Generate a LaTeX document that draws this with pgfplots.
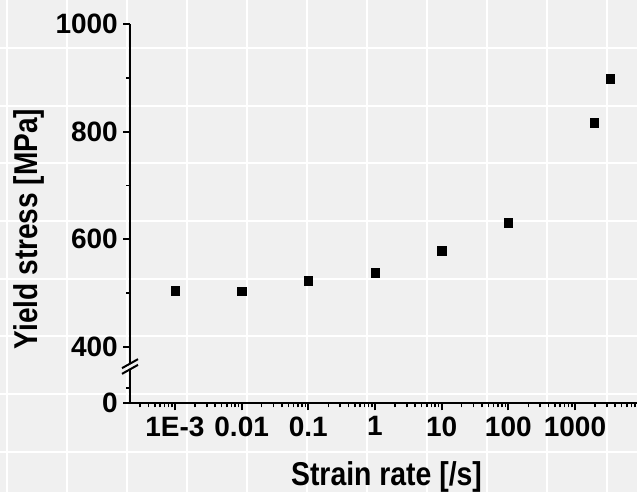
\documentclass[border=0pt]{standalone}
\usepackage{fontspec}
\setmainfont{Liberation Sans}
\usepackage{graphicx}
\usepackage{pgfplots}
\pgfplotsset{compat=1.18}
\definecolor{bg}{RGB}{240,240,240}
\begin{document}
\begin{tikzpicture}[x=1pt,y=1pt]
\useasboundingbox (0,0) rectangle (637,492);
\fill[bg] (0,0) rectangle (637,492);
\foreach \gx in {7,67,...,607} \draw[white, line width=2pt] (\gx,0) -- (\gx,492);
\foreach \k in {0,...,7} \draw[white, line width=2pt] (0,{492-48-57.7*\k}) -- (637,{492-48-57.7*\k});
\begin{axis}[
  at={(130pt,88.7pt)}, anchor=south west,
  scale only axis, width=507pt, height=379.3pt,
  xmode=log, xmin=2.113e-4, xmax=8511,
  ymin=294.7, ymax=1000,
  axis lines=left,
  axis line style={-, line width=2pt, black},
  clip=false,
  xtick={1e-3,1e-2,0.1,1,10,100,1000},
  xticklabels={1E-3,0.01,0.1,1,10,100,1000},
  minor xtick={3e-4,4e-4,5e-4,6e-4,7e-4,8e-4,9e-4,
    2e-3,3e-3,4e-3,5e-3,6e-3,7e-3,8e-3,9e-3,
    2e-2,3e-2,4e-2,5e-2,6e-2,7e-2,8e-2,9e-2,
    0.2,0.3,0.4,0.5,0.6,0.7,0.8,0.9,
    2,3,4,5,6,7,8,9,
    20,30,40,50,60,70,80,90,
    200,300,400,500,600,700,800,900,
    2000,3000,4000,5000,6000,7000,8000},
  ytick={294.7,400,600,800,1000},
  yticklabels={0,400,600,800,1000},
  minor ytick={323.2,500,700,900},
  tick align=outside,
  major tick length=7pt, minor tick length=4pt,
  major tick style={line width=2pt, black},
  minor tick style={line width=1.5pt, black},
  ticklabel style={font=\fontsize{28}{33}\selectfont\bfseries, inner sep=0pt},
  yticklabel style={anchor=east, xshift=-5pt},
  xticklabel style={anchor=north, yshift=-6pt},
  xlabel={\scalebox{0.86}[1]{\fontsize{33}{40}\selectfont\bfseries Strain rate [/s]}},
  xlabel style={at={([xshift=3pt,yshift=-81.7pt]axis description cs:0.5,0)}, anchor=base, inner sep=0pt},
  ylabel={\scalebox{0.85}[1]{\fontsize{33}{40}\selectfont\bfseries Yield stress [MPa]}},
  ylabel style={at={([xshift=-92pt,yshift=-15.3pt]axis description cs:0,0.5)}, anchor=base, rotate=0, inner sep=0pt},
]
\addplot[only marks, mark=square*, mark size=4.3pt, black] coordinates {
  (0.001,504) (0.01,503.5) (0.1,523) (1,538) (10,579) (100,631) (1930,817) (3350,898)
};
\coordinate (brk) at (axis cs:2.113e-4,363.1);
\end{axis}
\fill[bg] ([shift={(-2,-3.975)}]brk) -- ([shift={(2,-1.725)}]brk) -- ([shift={(2,3.975)}]brk) -- ([shift={(-2,1.725)}]brk) -- cycle;
\draw[line width=2pt] ([shift={(-8,-7.35)}]brk) -- ([shift={(8,1.65)}]brk);
\draw[line width=2pt] ([shift={(-8,-1.65)}]brk) -- ([shift={(8,7.35)}]brk);
\end{tikzpicture}
\end{document}
